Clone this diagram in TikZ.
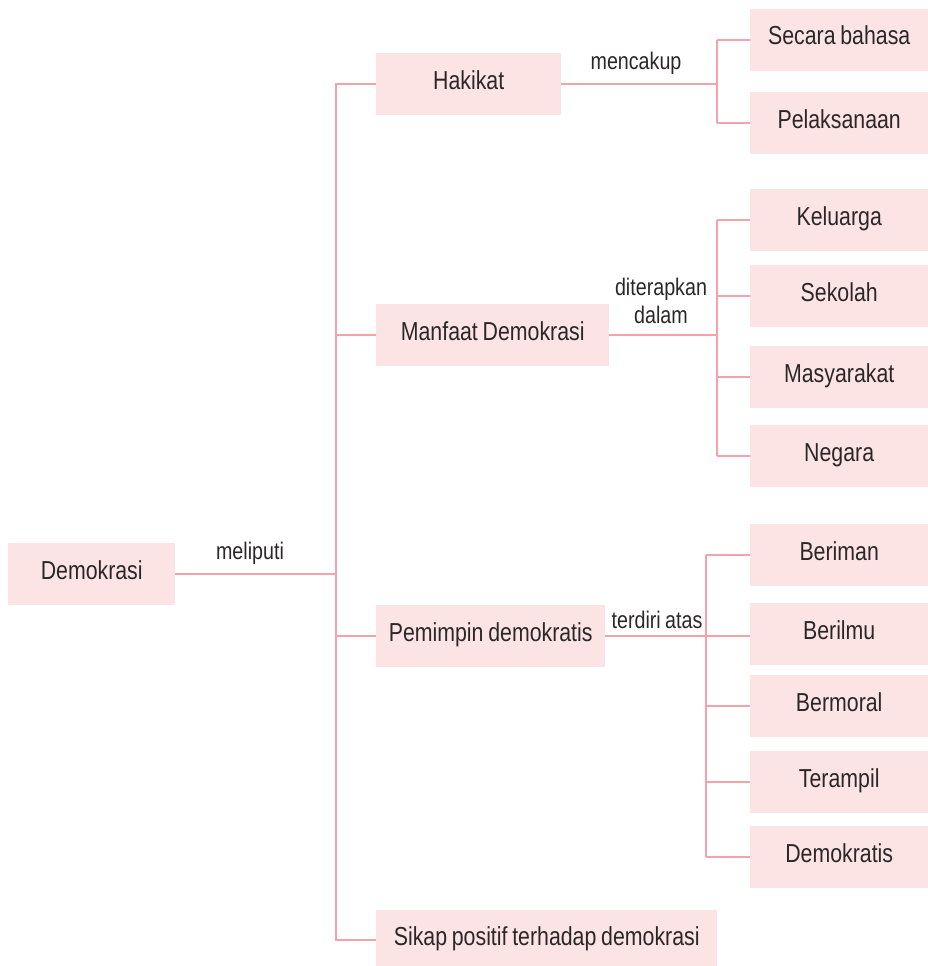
\documentclass[tikz,border=0pt]{standalone}
\usepackage{fontspec}
\setmainfont[FakeStretch=0.82, WordSpace=0.8]{Liberation Sans}
\usepackage{tikz}
\usetikzlibrary{positioning, calc}
\definecolor{boxpink}{HTML}{FCE4E5}
\definecolor{linkpink}{HTML}{F4A3AD}
\definecolor{inkgray}{HTML}{2B2728}
\tikzset{
  box/.style={fill=boxpink, text=inkgray, inner sep=0pt, minimum height=62pt,
    anchor=west, text height=19pt, text depth=9pt, font=\fontsize{26}{29}\selectfont},
  leaf/.style={box, minimum width=178pt},
  link/.style={draw=linkpink, line width=2.7pt},
  lbl/.style={text=inkgray, font=\fontsize{24}{26}\selectfont, align=center}
}

\begin{document}
\begin{tikzpicture}[x=1pt,y=-1pt]
\useasboundingbox (0,0) rectangle (928,966);
% Root and the four main topics
\node[box, minimum width=167pt] (demo) at (8,574) {Demokrasi};
\node[box, minimum width=185pt] (hak) at (376,84) {Hakikat};
\node[box, minimum width=233pt] (man) at (376,335) {Manfaat Demokrasi};
\node[box, minimum width=229pt] (pem) at (376,636) {Pemimpin demokratis};
\node[box, minimum width=341pt, minimum height=60pt] (sik) at (376,940) {Sikap positif terhadap demokrasi};
% Leaves in the right column
\node[leaf] (secara) at (750,40) {Secara bahasa};
\node[leaf] (pelak) at (750,123) {Pelaksanaan};
\node[leaf] (kel) at (750,220) {Keluarga};
\node[leaf] (sek) at (750,296) {Sekolah};
\node[leaf] (mas) at (750,377) {Masyarakat};
\node[leaf] (neg) at (750,456) {Negara};
\node[leaf] (ber) at (750,555) {Beriman};
\node[leaf] (ilm) at (750,634) {Berilmu};
\node[leaf] (mor) at (750,706) {Bermoral};
\node[leaf] (ter) at (750,782) {Terampil};
\node[leaf] (dkr) at (750,857) {Demokratis};
% Junction points of the trees
\coordinate (trunk) at (336,574);
\coordinate (jhak) at (717,84);
\coordinate (jman) at (717,335);
\coordinate (jpem) at (706,636);
% Main trunk
\draw[link] (demo.east) -- (trunk);
\draw[link] (hak.west) -| (trunk) |- (sik.west);
\draw[link] (man.west) -- (man.west -| trunk);
\draw[link] (pem.west) -- (pem.west -| trunk);
% Branches to the leaves
\draw[link] (hak.east) -- (jhak);
\draw[link] (jhak |- secara) -- (jhak |- pelak);
\foreach \n in {secara, pelak} \draw[link] (jhak |- \n) -- (\n.west);
\draw[link] (man.east) -- (jman);
\draw[link] (jman |- kel) -- (jman |- neg);
\foreach \n in {kel, sek, mas, neg} \draw[link] (jman |- \n) -- (\n.west);
\draw[link] (pem.east) -- (jpem);
\draw[link] (jpem |- ber) -- (jpem |- dkr);
\foreach \n in {ber, mor, ter, dkr} \draw[link] (jpem |- \n) -- (\n.west);
\draw[link] (jpem) -- (jpem -| ilm.west);
% Connector labels
\node[lbl] (meliputi) at (250,553) {meliputi};
\node[lbl] (mencakup) at (636,63) {mencakup};
\node[lbl] (diterapkan) at (661,301) {diterapkan\\[2pt]dalam};
\node[lbl] (terdiri) at (657,620) {terdiri atas};
\end{tikzpicture}
\end{document}
